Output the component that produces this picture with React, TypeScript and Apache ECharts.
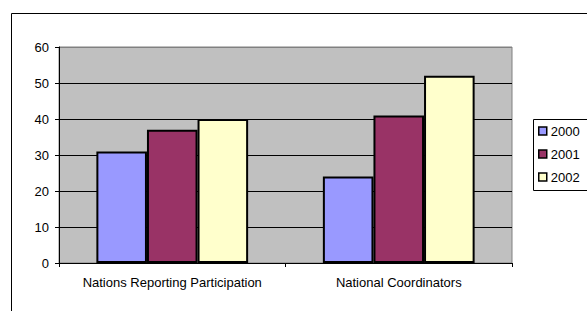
import React, { useEffect, useRef } from "react";
import * as echarts from "echarts";

const categories = ["Nations Reporting Participation", "National Coordinators"];
const years = ["2000", "2001", "2002"];
const values2000 = [31, 24];
const values2001 = [37, 41];
const values2002 = [40, 52];
const yTicks = [0, 10, 20, 30, 40, 50, 60];
const colors = ["#9999FF", "#993366", "#FFFFCC"];

export default function App() {
  const ref = useRef<HTMLDivElement>(null);
  useEffect(() => {
    document.body.style.margin = "0";
    if (!ref.current) return;
    const chart = echarts.init(ref.current, null, { renderer: "svg" });
    const seriesData = [values2000, values2001, values2002];
    const font = "Liberation Sans, Arial, sans-serif";
    chart.setOption({
      animation: false,
      textStyle: { fontFamily: font },
      graphic: [
        {
          type: "rect",
          z: 0,
          silent: true,
          shape: { x: 11.5, y: 13.5, width: 700, height: 500 },
          style: { fill: "none", stroke: "#000", lineWidth: 1 },
        },
        {
          type: "rect",
          z: 1,
          silent: true,
          shape: { x: 533.5, y: 119.5, width: 100, height: 71 },
          style: { fill: "#fff", stroke: "#000", lineWidth: 1 },
        },
      ],
      grid: {
        left: 59,
        top: 47,
        right: 75,
        bottom: 48,
        show: true,
        backgroundColor: "#C0C0C0",
        borderColor: "#808080",
        borderWidth: 1,
      },
      legend: {
        z: 10,
        orient: "vertical",
        left: 538,
        top: 124,
        padding: 0,
        itemWidth: 8,
        itemHeight: 8,
        itemGap: 9,
        icon: "rect",
        data: years,
        textStyle: { fontSize: 13, lineHeight: 14, color: "#000", fontFamily: font, padding: [0, 0, 0, -1] },
        itemStyle: { borderColor: "#000", borderWidth: 1.5 },
      },
      xAxis: {
        type: "category",
        data: categories,
        axisLine: { lineStyle: { color: "#000", width: 1 } },
        axisTick: { show: true, length: 4, lineStyle: { color: "#000" } },
        axisLabel: { interval: 0, fontSize: 13, color: "#000", margin: 13, fontFamily: font },
      },
      yAxis: {
        type: "value",
        min: 0,
        max: 60,
        interval: 10,
        axisLine: { show: true, lineStyle: { color: "#000", width: 1 } },
        axisTick: { show: true, length: 4, lineStyle: { color: "#000" } },
        axisLabel: {
          fontSize: 13,
          color: "#000",
          margin: 10,
          fontFamily: font,
          formatter: (v: number) => (yTicks.includes(v) ? String(v) : ""),
        },
        splitLine: {
          show: true,
          lineStyle: {
            color: ["#000", "#000", "#000", "#000", "#000", "#000", "#808080"],
            width: 1,
          },
        },
      },
      series: years.map((y, i) => ({
        name: y,
        type: "bar",
        data: seriesData[i],
        barGap: "0%",
        barCategoryGap: "33%",
        itemStyle: { color: colors[i], borderColor: "#000", borderWidth: 2 },
      })),
    });
    return () => chart.dispose();
  }, []);
  return <div ref={ref} style={{ width: 587, height: 311 }} />;
}
